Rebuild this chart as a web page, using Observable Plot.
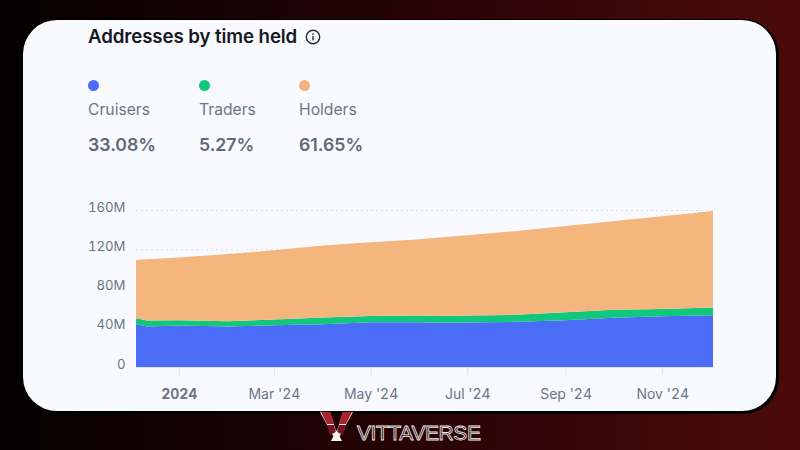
<!DOCTYPE html>
<html><head><meta charset="utf-8">
<script src="https://cdn.jsdelivr.net/npm/d3@7"></script>
<script src="https://cdn.jsdelivr.net/npm/@observablehq/plot@0.6"></script>
<style>
html,body{margin:0;padding:0;width:800px;height:450px;overflow:hidden;font-family:Inter,"Noto Sans",sans-serif}
body{position:relative;background:linear-gradient(90deg,#050000 0%,#260304 50%,#4c0a0a 100%)}
#card{position:absolute;left:23px;top:20px;width:753px;height:391px;background:#f8faff;border-radius:34px;box-shadow:1px 1px 0 2px #000,0 0 0 1px #000}
#title{position:absolute;left:88px;top:25px;font-size:18.7px;font-weight:600;color:#16181f;white-space:nowrap;letter-spacing:-.1px}
#info{position:absolute;left:304px;top:28px}
.dot{position:absolute;top:80px;width:11px;height:11px;border-radius:50%}
.lab{position:absolute;top:100px;font-size:15.7px;color:#6f7486;white-space:nowrap}
.val{position:absolute;top:134px;font-size:17.7px;font-weight:600;color:#636879;white-space:nowrap}
#chart{position:absolute;left:0;top:190px}
#chart svg{background:transparent!important;display:block}
#logo{position:absolute;left:318px;top:411px}
#brand{position:absolute;left:357px;top:421px;font-size:21px;font-weight:500;color:transparent;-webkit-text-stroke:.8px #eee;letter-spacing:-.4px;white-space:nowrap;font-family:"Liberation Sans",sans-serif}
</style></head>
<body>
<div id="card"></div>
<div id="title">Addresses by time held</div>
<svg id="info" width="18" height="18" viewBox="0 0 18 18"><circle cx="9" cy="9" r="6.7" fill="none" stroke="#2a2c35" stroke-width="1.4"/><rect x="8.3" y="8" width="1.4" height="4.4" fill="#2a2c35"/><rect x="8.3" y="5.3" width="1.4" height="1.5" fill="#2a2c35"/></svg>
<div id="legend"></div>
<div id="chart"></div>
<svg id="logo" width="38" height="32" viewBox="0 0 38 32">
<polygon points="2,1 12,1 18,20 18,30" fill="#f2f2f2"/><polygon points="35,1 25,1 19,20 19,30" fill="#f2f2f2"/>
<polygon points="3,1 12,1 16,13 9,13" fill="#a8232d"/><polygon points="34,1 25,1 21,13 28,13" fill="#a8232d"/>
<polygon points="9,14 16,14 18,21 12,24" fill="#7a141c"/><polygon points="28,14 21,14 19,21 25,24" fill="#7a141c"/>
<polygon points="13,30 18.5,19 24,30" fill="#f5f5f5"/></svg>
<div id="brand">VITTAVERSE</div>
<script>
const seriesNames = ["Cruisers", "Traders", "Holders"];
const seriesColors = ["#4a6cf7", "#10c77c", "#f5b67e"];
const dotColors = ["#4a6cf7", "#10c77c", "#f7b27c"];
const sharePct = ["33.08%", "5.27%", "61.65%"];
const legendX = [88, 199, 299];

const dates = ["2023-12-05","2023-12-12","2024-01-01","2024-02-01","2024-03-01","2024-04-01","2024-05-01","2024-06-01","2024-06-12","2024-07-01","2024-08-01","2024-09-01","2024-10-01","2024-11-01","2024-12-03"];
const cruisers = [43.6,41.2,42.3,41.2,42.6,43.6,45.7,45.7,45.0,45.3,46.0,47.7,50.1,51.8,52.8];
const traders  = [6.2, 6.2, 5.4, 5.5, 5.8, 6.8, 6.4, 6.8, 7.1, 7.2, 7.2, 8.2, 8.2, 7.2, 7.9];
const holders  = [59.3,62.3,63.8,68.5,70.5,73.3,75.0,77.7,79.5,81.8,85.5,87.7,90.3,94.7,98.3];

const yTicks = [0, 40, 80, 120, 160];
const xTicks = ["2024-01-01","2024-03-01","2024-05-01","2024-07-01","2024-09-01","2024-11-01"];
const xLabels = ["2024","Mar '24","May '24","Jul '24","Sep '24","Nov '24"];

const legend = document.getElementById("legend");
seriesNames.forEach((n,i)=>{
  legend.insertAdjacentHTML("beforeend",
    `<div class="dot" style="left:${legendX[i]}px;background:${dotColors[i]}"></div>`+
    `<div class="lab" style="left:${legendX[i]}px">${n}</div>`+
    `<div class="val" style="left:${legendX[i]}px">${sharePct[i]}</div>`);
});

const rows = [];
seriesNames.forEach((s,k)=>{
  const v = [cruisers,traders,holders][k];
  dates.forEach((d,i)=>rows.push({date:new Date(d),series:s,value:v[i]}));
});
const tickDates = xTicks.map(d=>new Date(d));
const labelOf = d => xLabels[tickDates.findIndex(t=>+t===+d)];
const axisCommon = {tickSize:8,tickPadding:14,stroke:"#dde2ea",fill:"#6f7486",fontSize:14,tickFormat:labelOf};

const plot = Plot.plot({
  width:800,height:220,
  marginLeft:136,marginRight:87,marginTop:20,marginBottom:43,
  style:{fontFamily:"Inter, sans-serif",background:"transparent",overflow:"visible"},
  x:{type:"utc",domain:[new Date(dates[0]),new Date(dates[dates.length-1])]},
  y:{domain:[0,160]},
  color:{domain:seriesNames,range:seriesColors},
  marks:[
    Plot.gridY(yTicks,{stroke:"#dadee6",strokeOpacity:1,strokeDasharray:"2,3"}),
    Plot.areaY(rows,{x:"date",y:"value",fill:"series",z:"series",curve:"linear"}),
    Plot.ruleY([0],{stroke:"#dde2ea"}),
    Plot.axisY(yTicks,{tickSize:0,tickPadding:11,dy:-3,fontSize:13.2,fill:"#6f7486",tickFormat:d=>d===0?"0":d+"M",label:null}),
    Plot.axisX(tickDates.slice(0,1),{...axisCommon,fontWeight:700,label:null}),
    Plot.axisX(tickDates.slice(1),{...axisCommon,label:null})
  ]
});
document.getElementById("chart").appendChild(plot);
</script>
</body></html>
